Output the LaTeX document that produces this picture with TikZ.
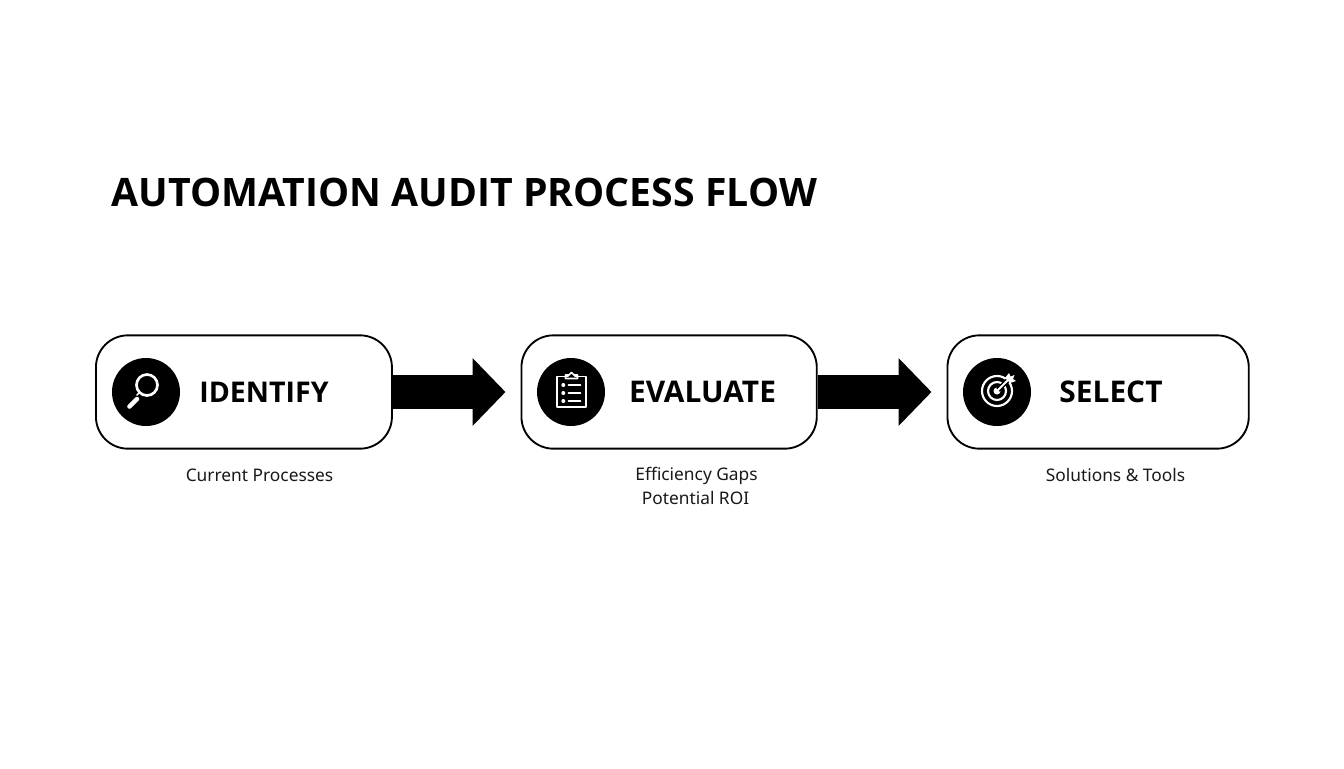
\documentclass[tikz,border=0pt]{standalone}
\usepackage{fontspec}
\setmainfont{Noto Sans}
\newfontfamily\headfont{Open Sans}
\usetikzlibrary{arrows.meta}
\tikzset{
  px/.style={x=0.75pt,y=-0.75pt},
  stagebox/.style={draw=black,line width=1.4pt,rounded corners=24pt,minimum height=85pt,inner sep=0pt,anchor=west},
  flow/.style={line width=25.5pt,draw=black,-{Triangle[length=24.75pt,width=49.5pt]},shorten >=11.25pt},
  badge/.style={circle,fill=black,minimum size=51pt,inner sep=0pt},
  stagename/.style={font=\headfont\fontsize{22.4pt}{26pt}\selectfont\bfseries,anchor=base,inner sep=0pt},
  sublabel/.style={font=\fontsize{13pt}{16pt}\selectfont,anchor=base,inner sep=0pt,text=black!90},
  heading/.style={font=\headfont\fontsize{29.4pt}{34pt}\selectfont\bfseries,anchor=base west,inner sep=0pt},
  ico/.style={draw=white,line width=1.3pt,line cap=round,line join=round}
}
\begin{document}
\begin{tikzpicture}[px]
\useasboundingbox[fill=white] (0,0) rectangle (1344,768);
\node[heading] (title) at (111.5,206.5) {AUTOMATION AUDIT PROCESS FLOW};
\node[stagebox,minimum width=222pt] (b1) at (95,392) {};
\node[stagebox,minimum width=221.5pt] (b2) at (520.5,392) {};
\node[stagebox,minimum width=226pt] (b3) at (946.5,392) {};
\draw[flow] (b1.east) -- (b2.west);
\draw[flow] (b2.east) -- (b3.west);
% badges
\node[badge] (c1) at (146,392) {};
\node[badge] (c2) at (571,392) {};
\node[badge] (c3) at (997,392) {};
% magnifier
\draw[ico,line width=2pt] (147,385) circle (10.5);
\draw[ico,line width=1.3pt] (139.5,392.5) -- (137,395);
\draw[ico,line width=3.4pt] (129.5,406.5) -- (137,399);
% clipboard
\draw[ico] (568,376.5) -- (557,376.5) -- (557,407) -- (586,407) -- (586,376.5) -- (575,376.5);
\draw[ico] (565.5,378.5) -- (565.5,375) -- (569,375) -- (571.5,372.5) -- (574,375) -- (577.5,375) -- (577.5,378.5) -- cycle;
\foreach \yy in {385,393,401}{
  \fill[white] (563.3,\yy) circle (2);
  \draw[ico] (568.5,\yy) -- (580.5,\yy);
}
% target
\draw[ico,line width=1.6pt] (997,391) circle (15);
\draw[ico,line width=1.6pt] (997,391) circle (9);
\fill[white] (997,391) circle (3.5);
\draw[black,line width=3.6pt] (998,390) -- (1008,380);
\draw[ico,line width=1.4pt] (997,391) -- (1008,380);
\fill[white] (1005,378) -- (1009,373) -- (1010.5,376.5) -- (1014.5,375) -- (1013,379) -- (1016,381) -- (1010,383) -- cycle;
% texts
\node[stagename,font=\headfont\fontsize{21.4pt}{26pt}\selectfont\bfseries] (n1) at (264,402) {IDENTIFY};
\node[stagename] (n2) at (702.5,402) {EVALUATE};
\node[stagename] (n3) at (1111,402) {SELECT};
\node[sublabel] (s1) at (259.5,481) {Current Processes};
\node[sublabel] (s2a) at (696.5,480.5) {Efficiency Gaps};
\node[sublabel] (s2b) at (695.5,504) {Potential ROI};
\node[sublabel] (s3) at (1115.5,481) {Solutions \& Tools};
\end{tikzpicture}
\end{document}
